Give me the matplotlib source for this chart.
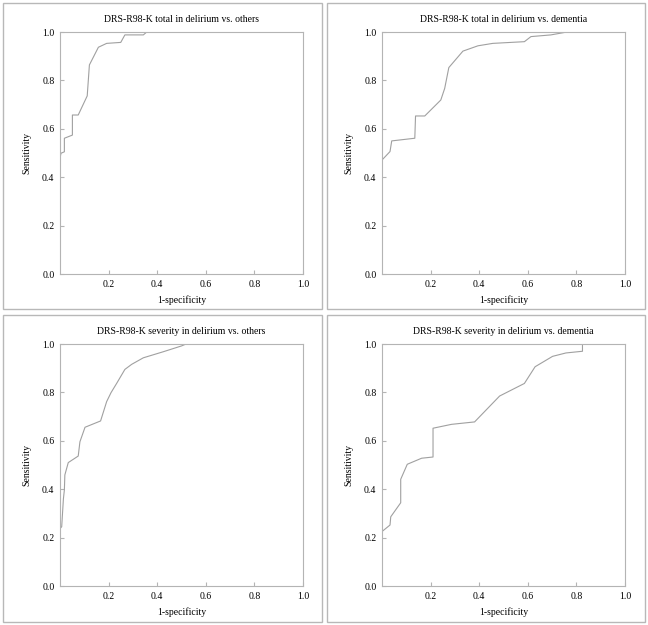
import matplotlib
matplotlib.use("Agg")
import matplotlib.pyplot as plt
from matplotlib.patches import Rectangle

plt.rcParams['font.family'] = ['Liberation Serif', 'DejaVu Serif']

# ROC curves (1-specificity, sensitivity)
total_others_x = [0.0, 0.004, 0.018, 0.018, 0.051, 0.051, 0.075, 0.112, 0.121, 0.158, 0.192, 0.25, 0.267, 0.343, 0.357, 1.0]
total_others_y = [0.478, 0.499, 0.505, 0.561, 0.574, 0.657, 0.657, 0.736, 0.864, 0.937, 0.953, 0.957, 0.988, 0.988, 1.0, 1.0]

total_dementia_x = [0.0, 0.033, 0.04, 0.135, 0.138, 0.176, 0.242, 0.258, 0.275, 0.333, 0.395, 0.456, 0.586, 0.613, 0.695, 0.762, 1.0]
total_dementia_y = [0.471, 0.506, 0.55, 0.561, 0.653, 0.653, 0.719, 0.767, 0.853, 0.921, 0.943, 0.953, 0.96, 0.981, 0.988, 1.0, 1.0]

severity_others_x = [0.0, 0.007, 0.014, 0.018, 0.02, 0.034, 0.075, 0.082, 0.103, 0.167, 0.192, 0.21, 0.233, 0.267, 0.295, 0.343, 0.425, 0.5, 0.519, 1.0]
severity_others_y = [0.237, 0.245, 0.36, 0.397, 0.459, 0.51, 0.537, 0.596, 0.656, 0.682, 0.762, 0.799, 0.837, 0.895, 0.916, 0.943, 0.968, 0.992, 1.0, 1.0]

severity_dementia_x = [0.0, 0.033, 0.036, 0.077, 0.077, 0.104, 0.163, 0.21, 0.21, 0.286, 0.381, 0.484, 0.586, 0.63, 0.702, 0.757, 0.825, 0.825, 1.0]
severity_dementia_y = [0.225, 0.252, 0.286, 0.344, 0.441, 0.503, 0.528, 0.533, 0.652, 0.668, 0.678, 0.785, 0.837, 0.906, 0.949, 0.963, 0.97, 1.0, 1.0]

titles = ['DRS-R98-K total in delirium vs. others',
          'DRS-R98-K total in delirium vs. dementia',
          'DRS-R98-K severity in delirium vs. others',
          'DRS-R98-K severity in delirium vs. dementia']
curves = [(total_others_x, total_others_y), (total_dementia_x, total_dementia_y),
          (severity_others_x, severity_others_y), (severity_dementia_x, severity_dementia_y)]

W, H = 648, 625
fig = plt.figure(figsize=(W / 100, H / 100), dpi=100)

# panel frames and axes boxes in pixels: (frame x0, y0, x1, y1), (axes left, top)
frames = [(3, 3, 322, 309), (327, 3, 645, 309), (3, 315, 322, 622), (327, 315, 645, 622)]
ax_pos = [(60, 32), (382, 32), (60, 344), (382, 344)]
ax_w, ax_h = 243, 242

spine_col = '#b4b4b4'
line_col = '#a0a0a0'

for i in range(4):
    fx0, fy0, fx1, fy1 = frames[i]
    fig.patches.append(Rectangle((fx0 / W, 1 - fy1 / H), (fx1 - fx0) / W, (fy1 - fy0) / H,
                                 transform=fig.transFigure, fill=False,
                                 edgecolor='#b8b8b8', linewidth=1.0))
    left, top = ax_pos[i]
    ax = fig.add_axes([left / W, 1 - (top + ax_h) / H, ax_w / W, ax_h / H])
    xs, ys = curves[i]
    ax.plot(xs, ys, color=line_col, linewidth=0.8)
    ax.set_xlim(0, 1)
    ax.set_ylim(0, 1)
    ax.set_xticks([0.2, 0.4, 0.6, 0.8, 1.0])
    ax.set_yticks([0.0, 0.2, 0.4, 0.6, 0.8, 1.0])
    ax.set_xticklabels(['0.2', '0.4', '0.6', '0.8', '1.0'])
    ax.set_yticklabels(['0.0', '0.2', '0.4', '0.6', '0.8', '1.0'])
    for s in ax.spines.values():
        s.set_color(spine_col)
        s.set_linewidth(0.8)
    ax.tick_params(axis='y', direction='in', length=3, color=spine_col, labelsize=7, pad=4)
    ax.tick_params(axis='x', direction='in', length=3, color=spine_col, labelsize=7, pad=4)
    ax.set_title(titles[i], fontsize=7, pad=7)
    ax.set_xlabel('1-specificity', fontsize=7, labelpad=5)
    ax.set_ylabel('Sensitivity', fontsize=7, labelpad=8)

fig.savefig('out.png', dpi=100)
